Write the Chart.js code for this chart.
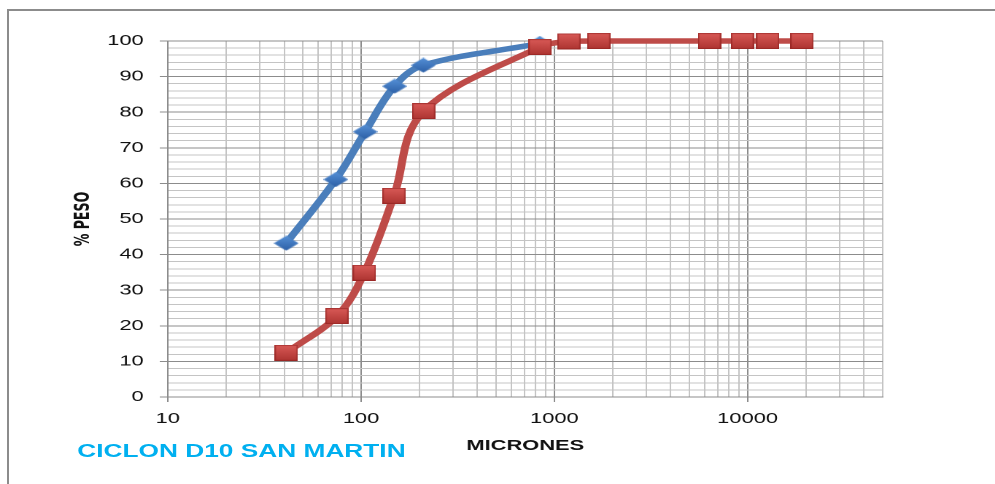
<!DOCTYPE html>
<html>
<head>
<meta charset="utf-8">
<script src="https://cdn.jsdelivr.net/npm/chart.js@4.4.1/dist/chart.umd.min.js"></script>
<style>
  html, body { margin: 0; padding: 0; background: #fff; }
  body { width: 995px; height: 484px; overflow: hidden; position: relative; }
  #frame { position: absolute; left: 7px; top: 9px; width: 1100px; height: 600px;
           border-top: 2px solid #8c8c8c; border-left: 2px solid #8c8c8c; }
  /* the original picture is stretched sideways, so the whole chart is too */
  #stretch { position: absolute; left: 0; top: 0; width: 682px; height: 484px;
             transform: scaleX(1.459); transform-origin: 0 0; }
  #stretch canvas { position: absolute; left: 0; top: 0; }
  #caption { position: absolute; left: 53px; top: 441px; line-height: 18px; white-space: nowrap;
             font: bold 18px "Liberation Sans", Arial, sans-serif; color: #00b0f0; }
</style>
</head>
<body>
<div id="frame"></div>
<div id="stretch">
  <canvas id="chart" width="682" height="484"></canvas>
  <div id="caption">CICLON D10 SAN MARTIN</div>
</div>
<script>
// Data (microns vs % weight)
const blue_x = [41, 74, 105, 149, 210, 841];
const blue_y = [43.2, 61.1, 74.5, 87.3, 93.2, 99.3];

const red_x = [41, 75, 104, 148, 211, 844, 1190, 1700, 6350, 9400, 12700, 19100];
const red_y = [12.4, 22.7, 34.9, 56.5, 80.3, 98.3, 99.9, 100, 100, 100, 100, 100];

// Axis ticks
const x_grid = [10, 20, 30, 40, 50, 60, 70, 80, 90,
                100, 200, 300, 400, 500, 600, 700, 800, 900,
                1000, 2000, 3000, 4000, 5000, 6000, 7000, 8000, 9000,
                10000, 20000, 30000, 40000, 50000];
const x_labels = [10, 100, 1000, 10000];
const y_step = 2;
const y_label_step = 10;

const major_grid = "#8c8c8c";
const minor_grid = "#c4c4c4";

// Marker images (Excel style shaded square and diamond)
function makeSquare() {
  const c = document.createElement("canvas");
  c.width = 16; c.height = 16;
  const g = c.getContext("2d");
  const grad = g.createLinearGradient(0, 0, 0, 16);
  grad.addColorStop(0, "#d95a57");
  grad.addColorStop(1, "#ad3431");
  g.fillStyle = grad;
  g.fillRect(0, 0, 16, 16);
  g.strokeStyle = "rgba(140,30,28,0.6)";
  g.strokeRect(0.5, 0.5, 15, 15);
  return c;
}

function makeDiamond() {
  const c = document.createElement("canvas");
  c.width = 17; c.height = 15;
  const g = c.getContext("2d");
  const grad = g.createLinearGradient(0, 0, 0, 15);
  grad.addColorStop(0, "#5590d6");
  grad.addColorStop(1, "#2c5fa6");
  g.fillStyle = grad;
  g.beginPath();
  g.moveTo(8.5, 0);
  g.lineTo(17, 7.5);
  g.lineTo(8.5, 15);
  g.lineTo(0, 7.5);
  g.closePath();
  g.fill();
  return c;
}

const red_points = red_x.map((x, i) => ({ x, y: red_y[i] }));
const blue_points = blue_x.map((x, i) => ({ x, y: blue_y[i] }));

new Chart(document.getElementById("chart"), {
  type: "line",
  data: {
    datasets: [
      {
        label: "Serie2",
        data: red_points,
        borderColor: "#be4b48",
        borderWidth: 5.5,
        tension: 0.35,
        pointStyle: makeSquare(),
        clip: false,
        order: 1
      },
      {
        label: "Serie1",
        data: blue_points,
        borderColor: "#4a7ebb",
        borderWidth: 5.5,
        tension: 0.35,
        pointStyle: makeDiamond(),
        clip: false,
        order: 2
      }
    ]
  },
  options: {
    responsive: false,
    animation: false,
    devicePixelRatio: 2,
    layout: { padding: { top: 41, right: 77, left: 0, bottom: 0 } },
    plugins: {
      legend: { display: false },
      tooltip: { enabled: false }
    },
    scales: {
      x: {
        type: "logarithmic",
        min: 10,
        max: 50000,
        afterBuildTicks: (scale) => {
          scale.ticks = x_grid.map(v => ({ value: v }));
        },
        afterFit: (scale) => { scale.height = 87; },
        ticks: {
          autoSkip: false,
          maxRotation: 0,
          padding: 8,
          color: "#111",
          font: { family: "Liberation Sans", size: 15 },
          callback: (v) => x_labels.includes(v) ? String(v) : ""
        },
        grid: {
          tickLength: 5,
          color: (ctx) => x_labels.includes(ctx.tick.value) ? major_grid : minor_grid,
          tickColor: (ctx) => x_labels.includes(ctx.tick.value) ? major_grid : "rgba(0,0,0,0)"
        },
        border: { color: major_grid },
        title: {
          display: true,
          text: "MICRONES",
          color: "#111",
          font: { family: "Liberation Sans", size: 15, weight: "bold" },
          padding: { top: 0, bottom: 29 }
        }
      },
      y: {
        min: 0,
        max: 100,
        afterFit: (scale) => { scale.width = 115; },
        ticks: {
          stepSize: y_step,
          autoSkip: false,
          padding: 11,
          color: "#111",
          font: { family: "Liberation Sans", size: 15 },
          callback: (v) => v % y_label_step === 0 ? String(v) : ""
        },
        grid: {
          tickLength: 5.5,
          color: (ctx) => ctx.tick.value % y_label_step === 0 ? major_grid : minor_grid,
          tickColor: (ctx) => ctx.tick.value % y_label_step === 0 ? major_grid : "rgba(0,0,0,0)"
        },
        border: { color: major_grid },
        title: {
          display: true,
          text: "% PESO",
          color: "#111",
          font: { family: "'Liberation Sans Narrow', 'DejaVu Sans Condensed', 'Liberation Sans'", size: 14, weight: "bold" },
          padding: { top: 49, bottom: 0 }
        }
      }
    }
  }
});
</script>
</body>
</html>
